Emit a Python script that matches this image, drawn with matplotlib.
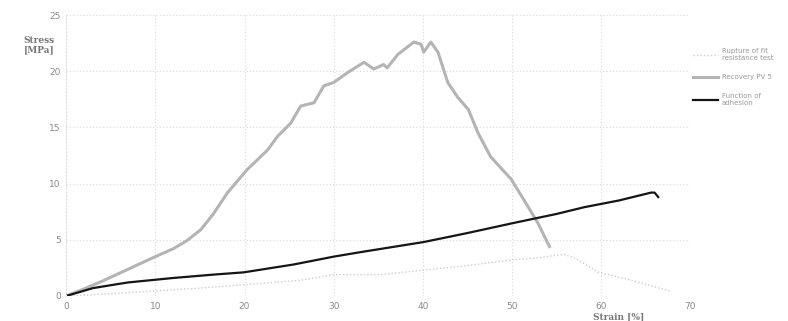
# Stress-strain curves, three specimens

import matplotlib.pyplot as plt

# Gray curve (peak around 40 % strain)
strain_b = [0, 1.6, 4, 7, 10, 12.0, 13.5, 15.1, 16.5, 18.1, 20.3, 22.6, 23.7, 25.2, 26.3, 27.8, 28.9,
            30.0, 31.6, 33.4, 34.5, 35.6, 36.0, 37.2, 39.0, 39.8, 40.1, 40.9, 41.7,
            42.8, 43.9, 45.1, 46.2, 47.6, 49.9, 51.3, 52.9, 54.2]
stress_b = [0, 0.5, 1.3, 2.4, 3.5, 4.2, 4.9, 5.9, 7.3, 9.2, 11.25, 13.0, 14.2, 15.4, 16.9, 17.2, 18.7,
            19.0, 19.9, 20.8, 20.2, 20.6, 20.3, 21.5, 22.6, 22.4, 21.7, 22.6, 21.7,
            19.0, 17.7, 16.6, 14.5, 12.4, 10.4, 8.6, 6.5, 4.4]

# Black curve
strain_c = [0, 3, 6.9, 12, 16.5, 19.9, 25.5, 30.0, 33.0, 40.1, 45, 50.2, 55, 58.1, 62, 65.6, 66.0, 66.4]
stress_c = [0, 0.7, 1.2, 1.6, 1.9, 2.1, 2.8, 3.5, 3.9, 4.8, 5.6, 6.5, 7.3, 7.9, 8.5, 9.2, 9.2, 8.8]

# Dotted light curve
strain_a = [0, 1.6, 8, 15, 20, 26.3, 30, 35.3, 40.1, 45, 49.9, 53, 55.8, 57.0, 59.7, 63.4, 67.9]
stress_a = [0, 0.05, 0.35, 0.7, 1.0, 1.4, 1.9, 1.9, 2.3, 2.7, 3.2, 3.4, 3.7, 3.4, 2.1, 1.4, 0.4]

labels = ["Rupture of fit\nresistance test", "Recovery PV 5", "Function of\nadhesion"]

fig = plt.figure(figsize=(7.88, 3.21), dpi=100)
ax = fig.add_axes([0.084, 0.078, 0.792, 0.875])

ax.plot(strain_a, stress_a, color="#cccccc", linewidth=1.0, linestyle=(0, (1, 1.5)), label=labels[0])
ax.plot(strain_b, stress_b, color="#b4b4b4", linewidth=2.2, label=labels[1])
ax.plot(strain_c, stress_c, color="#151515", linewidth=1.6, label=labels[2])

ax.set_xlim(0, 70)
ax.set_ylim(0, 25)
ax.set_xticks(range(0, 71, 10))
ax.set_yticks(range(0, 26, 5))
ax.grid(True, color="#d8d8d8", linestyle=(0, (1, 2)), linewidth=0.8)
ax.tick_params(length=0, labelsize=6.5, labelcolor="#8a8a8a", pad=4)
for name, spine in ax.spines.items():
    spine.set_visible(name == "left")
ax.spines["left"].set_color("#dddddd")
ax.spines["left"].set_linestyle((0, (1, 2)))

fig.text(0.05, 0.86, "Stress\n[MPa]", ha="center", va="center", fontsize=6.5,
         family="DejaVu Serif", fontweight="bold", color="#777777", linespacing=1.0)
fig.text(0.785, 0.0, "Strain [%]", ha="center", va="bottom", fontsize=6.5,
         family="DejaVu Serif", fontweight="bold", color="#777777")

fig.legend(loc="upper left", bbox_to_anchor=(0.872, 0.87), frameon=False,
           fontsize=5, handlelength=3.6, handletextpad=0.5, labelspacing=1.9,
           labelcolor="#9a9a9a")

fig.savefig("out.png", dpi=100, facecolor="white")
